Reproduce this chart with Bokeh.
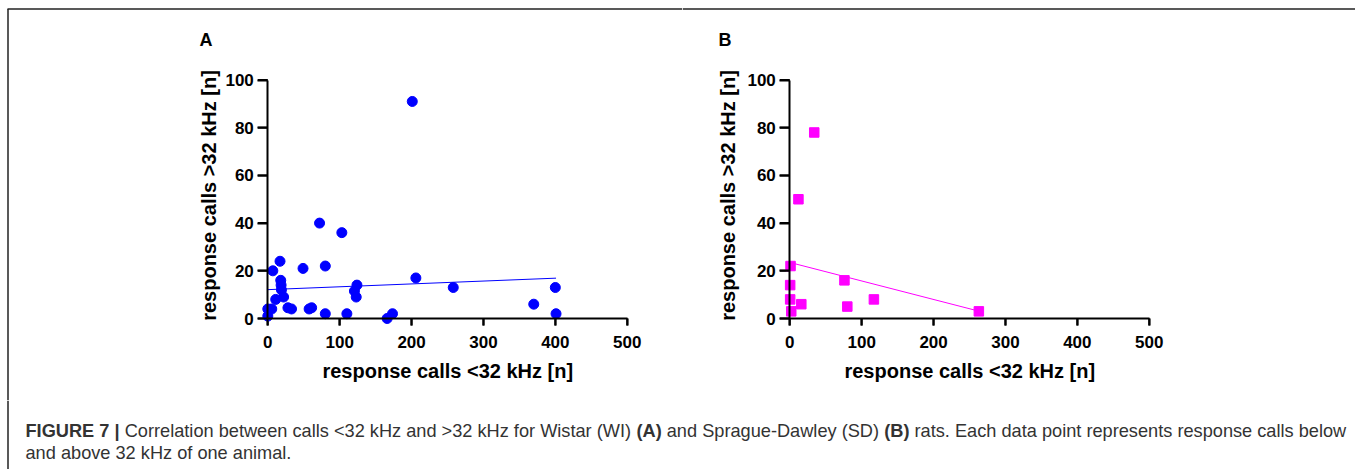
import math
from bokeh.plotting import figure
from bokeh.layouts import row, column
from bokeh.models import Range1d, FixedTicker
from bokeh.embed import file_html
from bokeh.resources import INLINE
from bokeh.core.properties import value

# ---------------- data ----------------
wi_x = [201, 72, 103, 17, 7, 49, 80, 206, 258, 400, 370, 401, 18, 18.5, 19, 22, 11,
        124, 120.5, 123, 28, 33, 61, 57.5, 80, 110, 173.5, 166, 0, 5.5, 0]
wi_y = [91, 40, 36, 24, 20, 21, 22, 17, 13, 13, 6, 2, 16, 14, 12, 9, 8,
        14, 11.5, 9, 4.5, 4, 4.5, 4, 2, 2, 2, 0, 4, 4, 1]
sd_x = [34, 12, 1, 0.5, 0.5, 2, 16, 76, 80, 117, 263]
sd_y = [78, 50, 22, 14, 8, 3, 6, 16, 5, 8, 3]
fit_wi = (12.1, 0.012)      # intercept, slope
fit_sd = (23.5, -0.0776)
x_ticks = [0, 100, 200, 300, 400, 500]
y_ticks = [0, 20, 40, 60, 80, 100]
x_label = "response calls <32 kHz [n]"
y_label = "response calls >32 kHz [n]"
caption_1 = [("FIGURE 7 |", True),
             (" Correlation between calls <32 kHz and >32 kHz for Wistar (WI) ", False),
             ("(A)", True),
             (" and Sprague-Dawley (SD) ", False),
             ("(B)", True),
             (" rats. Each data point represents response calls below", False)]
caption_2 = "and above 32 kHz of one animal."

# ---------------- layout (pixels) ----------------
FONT = "Liberation Sans"
PANEL_H = 400
SX = (626.7 - 267.3) / 500.0     # px per x unit
SY = (318.0 - 79.5) / 100.0      # px per y unit
Y0PX = 318.0                     # absolute pixel row of y = 0
BORDER_COLOR = "#222222"
XTICK_OUT, YTICK_OUT = 7, 10


def panel(xs, ys, fit, color, marker, msize, letter, fig_left, fig_w, x0px,
          letter_left, ylab_center):
    def dx(px):   # absolute pixel column -> data x
        return (px - x0px) / SX

    def dy(py):   # absolute pixel row -> data y
        return (Y0PX - py) / SY

    p = figure(width=fig_w, height=PANEL_H,
               x_range=Range1d(dx(fig_left), dx(fig_left + fig_w)),
               y_range=Range1d(dy(PANEL_H), dy(0)),
               output_backend="svg", toolbar_location=None, min_border=0)
    p.outline_line_color = None
    p.xgrid.visible = False
    p.ygrid.visible = False
    p.background_fill_color = "white"
    p.border_fill_color = "white"
    for ax, ticks in ((p.xaxis[0], x_ticks), (p.yaxis[0], y_ticks)):
        ax.fixed_location = 0
        ax.bounds = (ticks[0], ticks[-1])
        ax.ticker = FixedTicker(ticks=ticks)
        ax.minor_tick_line_color = None
        ax.axis_line_width = 2
        ax.axis_line_color = "black"
        ax.major_tick_line_width = 2
        ax.major_tick_line_color = "black"
        ax.major_tick_in = 0
        ax.major_label_text_font = FONT
        ax.major_label_text_font_style = "bold"
        ax.major_label_text_font_size = "17px"
        ax.major_label_text_color = "black"
    p.xaxis[0].major_tick_out = XTICK_OUT
    p.xaxis[0].major_label_standoff = 10
    p.yaxis[0].major_tick_out = YTICK_OUT
    p.yaxis[0].major_label_standoff = 4

    # outward tick marks at the tick values (through the plot scales)
    p.segment(x0=x_ticks, y0=[0] * len(x_ticks), x1=x_ticks,
              y1=[-XTICK_OUT / SY] * len(x_ticks), line_color="black", line_width=2)
    p.segment(x0=[0] * len(y_ticks), y0=y_ticks, x1=[-YTICK_OUT / SX] * len(y_ticks),
              y1=y_ticks, line_color="black", line_width=2)

    # axis titles
    p.text(x=[dx(x0px + 180)], y=[dy(370)], text=[x_label], text_font=value(FONT),
           text_font_style="bold", text_font_size="20px", text_color="black",
           text_align="center", text_baseline="middle")
    p.text(x=[dx(ylab_center)], y=[dy(195)], text=[y_label], text_font=value(FONT),
           text_font_style="bold", text_font_size="20px", text_color="black",
           text_align="center", text_baseline="middle", angle=math.pi / 2)
    # panel letter
    p.text(x=[dx(letter_left)], y=[dy(39)], text=[letter], text_font=value(FONT),
           text_font_style="bold", text_font_size="18px", text_color="black",
           text_align="left", text_baseline="middle")

    # regression line and points
    a, b = fit
    lx = [0, max(xs)]
    p.line(lx, [a + b * v for v in lx], line_color=color, line_width=1)
    p.scatter(xs, ys, marker=marker, size=msize, fill_color=color, line_color=color)

    # figure frame: top line (and left line on the first panel)
    p.segment(x0=[dx(max(fig_left, 7))], y0=[dy(8.5)], x1=[dx(fig_left + fig_w)], y1=[dy(8.5)],
              line_color=BORDER_COLOR, line_width=1.5)
    if fig_left == 0:
        p.segment(x0=[dx(7.5)], y0=[dy(8.5)], x1=[dx(7.5)], y1=[dy(PANEL_H)],
                  line_color=BORDER_COLOR, line_width=1.5)
    return p


pa = panel(wi_x, wi_y, fit_wi, "#0000ff", "circle", 10, "A", 0, 682, 267.3, 199, 208.5)
pb = panel(sd_x, sd_y, fit_sd, "#ff00ff", "square", 9.5, "B", 682, 673, 789.3, 718, 727)

# ---------------- caption ----------------
REG = {' ': 278, '(': 333, ')': 333, '-': 333, '.': 278, '|': 260, '<': 584, '>': 584,
       'A': 667, 'B': 667, 'C': 722, 'D': 722, 'E': 667, 'F': 611, 'G': 778, 'H': 722,
       'I': 278, 'S': 667, 'W': 944, 'a': 556, 'b': 556, 'c': 500, 'd': 556, 'e': 556,
       'f': 278, 'g': 556, 'h': 556, 'i': 222, 'k': 500, 'l': 222, 'm': 833, 'n': 556,
       'o': 556, 'p': 556, 'r': 333, 's': 500, 't': 278, 'u': 556, 'v': 500, 'w': 722,
       'y': 500, 'z': 500}
BOLD = {' ': 278, 'F': 611, 'I': 278, 'G': 778, 'U': 722, 'R': 722, 'E': 667, '|': 280,
        '(': 333, ')': 333, 'A': 722, 'B': 722}
CAP_SIZE = 18.2


def tw(s, bold):
    t = BOLD if bold else REG
    return sum(t.get(c, 556) for c in s) * CAP_SIZE / 1000.0


cap = figure(width=1355, height=69, x_range=Range1d(0, 1355), y_range=Range1d(469, 400),
             output_backend="svg", toolbar_location=None, min_border=0,
             x_axis_location=None, y_axis_location=None)
cap.outline_line_color = None
cap.grid.visible = False
cap.background_fill_color = "white"
cap.border_fill_color = "white"
cap.segment(x0=[7.5], y0=[400], x1=[7.5], y1=[469], line_color=BORDER_COLOR, line_width=1.5)

x = 25.0
for seg, bold in caption_1:
    lead = len(seg) - len(seg.lstrip(" "))
    x += tw(" " * lead, bold)
    txt = seg.strip(" ")
    cap.text(x=[x], y=[430], text=[txt], text_font=value(FONT),
             text_font_style="bold" if bold else "normal", text_font_size=f"{CAP_SIZE}px",
             text_color="#333333", text_baseline="middle", text_align="left")
    x += tw(txt, bold)
    x += tw(" " * (len(seg) - lead - len(txt)), bold)
cap.text(x=[25], y=[452], text=[caption_2], text_font=value(FONT), text_font_style="normal",
         text_font_size=f"{CAP_SIZE}px", text_color="#333333", text_baseline="middle",
         text_align="left")

layout = column(row(pa, pb), cap)
open("out.html", "w").write(file_html(layout, INLINE))
